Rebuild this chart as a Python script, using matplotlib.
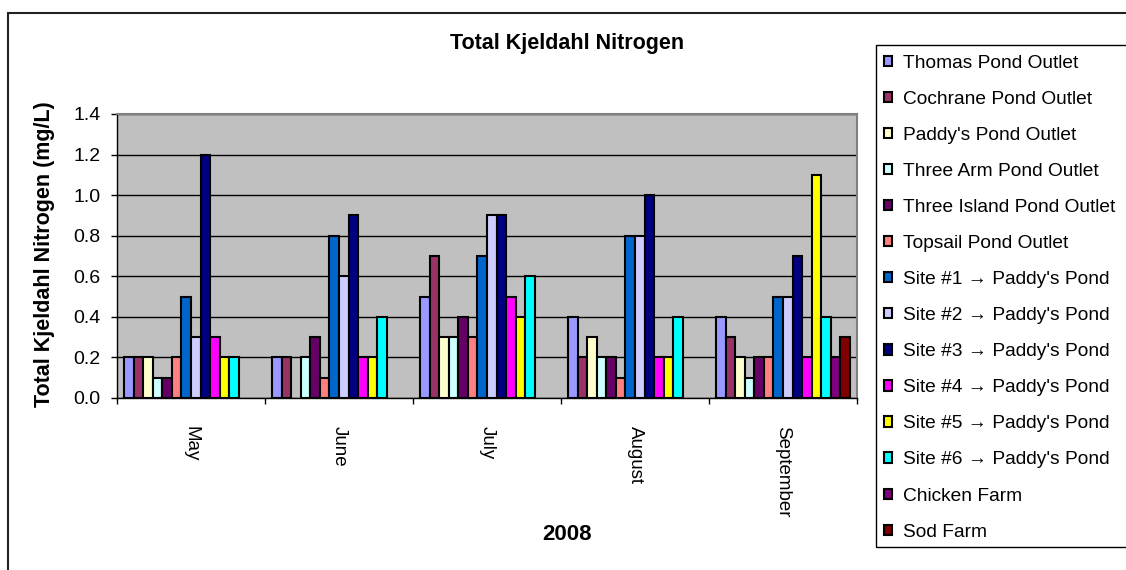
import numpy as np
import matplotlib
matplotlib.use('Agg')
import matplotlib.pyplot as plt
from matplotlib.patches import Rectangle

plt.rcParams['font.family'] = ['Liberation Sans', 'DejaVu Sans']

# Data (nan = no sample)
months = ['May', 'June', 'July', 'August', 'September']
series_names = [
    'Thomas Pond Outlet', 'Cochrane Pond Outlet', "Paddy's Pond Outlet",
    'Three Arm Pond Outlet', 'Three Island Pond Outlet', 'Topsail Pond Outlet',
    "Site #1 \u2192 Paddy's Pond", "Site #2 \u2192 Paddy's Pond",
    "Site #3 \u2192 Paddy's Pond", "Site #4 \u2192 Paddy's Pond",
    "Site #5 \u2192 Paddy's Pond", "Site #6 \u2192 Paddy's Pond",
    'Chicken Farm', 'Sod Farm',
]
nan = np.nan
thomas = [0.2, 0.2, 0.5, 0.4, 0.4]
cochrane = [0.2, 0.2, 0.7, 0.2, 0.3]
paddys = [0.2, nan, 0.3, 0.3, 0.2]
three_arm = [0.1, 0.2, 0.3, 0.2, 0.1]
three_island = [0.1, 0.3, 0.4, 0.2, 0.2]
topsail = [0.2, 0.1, 0.3, 0.1, 0.2]
site1 = [0.5, 0.8, 0.7, 0.8, 0.5]
site2 = [0.3, 0.6, 0.9, 0.8, 0.5]
site3 = [1.2, 0.9, 0.9, 1.0, 0.7]
site4 = [0.3, 0.2, 0.5, 0.2, 0.2]
site5 = [0.2, 0.2, 0.4, 0.2, 1.1]
site6 = [0.2, 0.4, 0.6, 0.4, 0.4]
chicken = [nan, nan, nan, nan, 0.2]
sod = [nan, nan, nan, nan, 0.3]

all_series = [thomas, cochrane, paddys, three_arm, three_island, topsail,
              site1, site2, site3, site4, site5, site6, chicken, sod]
colors = ['#9999FF', '#993366', '#FFFFCC', '#CCFFFF', '#660066', '#FF8080',
          '#0066CC', '#CCCCFF', '#000080', '#FF00FF', '#FFFF00', '#00FFFF',
          '#800080', '#800000']

W, H = 1126, 570
fig = plt.figure(figsize=(W / 100, H / 100), dpi=100)

# outer chart frame (right and bottom run off the picture)
fig.patches.append(Rectangle((8 / W, -0.1), 1.2, 1.1 - 13 / H, transform=fig.transFigure,
                             fill=False, edgecolor='#222222', linewidth=1.5))
# legend box, also running off the right edge
fig.patches.append(Rectangle((876 / W, 1 - 547 / H), 0.5, 502 / H, transform=fig.transFigure,
                             fill=False, edgecolor='black', linewidth=1))

ax = fig.add_axes([117 / W, 1 - 398 / H, 740 / W, 284 / H])
ax.set_facecolor('#C0C0C0')

n = len(all_series)
bw = 1 / (n + 1.5)
x = np.arange(len(months))
handles = []
for i, (vals, col, name) in enumerate(zip(all_series, colors, series_names)):
    b = ax.bar(x + (i - (n - 1) / 2) * bw, vals, width=bw, color=col,
               edgecolor='black', linewidth=1.5, label=name, zorder=3)
    handles.append(b)

ax.set_ylim(0, 1.4)
ax.set_xlim(-0.5, len(months) - 0.5)
ax.set_yticks(np.arange(0, 1.41, 0.2))
ax.set_yticklabels(['%.1f' % v for v in np.arange(0, 1.41, 0.2)], fontsize=14)
ax.yaxis.grid(True, color='black', linewidth=1)
ax.set_axisbelow(True)
ax.tick_params(axis='y', direction='out', length=4, pad=8, width=1)

ax.set_xticks(np.arange(-0.5, len(months), 1))
ax.set_xticklabels([])
ax.set_xticks(x, minor=True)
ax.set_xticklabels(months, minor=True, rotation=-90, fontsize=13.5, va='top')
ax.tick_params(axis='x', which='major', direction='out', length=4.5, width=1)
ax.tick_params(axis='x', which='minor', length=0, pad=20)

for s in ['left', 'bottom']:
    ax.spines[s].set_color('black')
    ax.spines[s].set_linewidth(1)
for s in ['top', 'right']:
    ax.spines[s].set_color('#808080')
    ax.spines[s].set_linewidth(1.5)

fig.text(567 / W, 1 - 43 / H, 'Total Kjeldahl Nitrogen', fontsize=15.5,
         fontweight='bold', ha='center', va='center')
fig.text(567 / W, 1 - 534 / H, '2008', fontsize=16, fontweight='bold',
         ha='center', va='center')
fig.text(45 / W, 1 - 254 / H, 'Total Kjeldahl Nitrogen (mg/L)', fontsize=15.5,
         fontweight='bold', ha='center', va='center', rotation=90)

leg = fig.legend(handles=handles, loc='upper left',
                 bbox_to_anchor=(876 / W, 1 - 47 / H), fontsize=13.8,
                 frameon=False, borderpad=0.4,
                 labelspacing=0.995, handlelength=0.45, handleheight=0.45,
                 handletextpad=0.55, borderaxespad=0)

fig.savefig('out.png', dpi=100)
